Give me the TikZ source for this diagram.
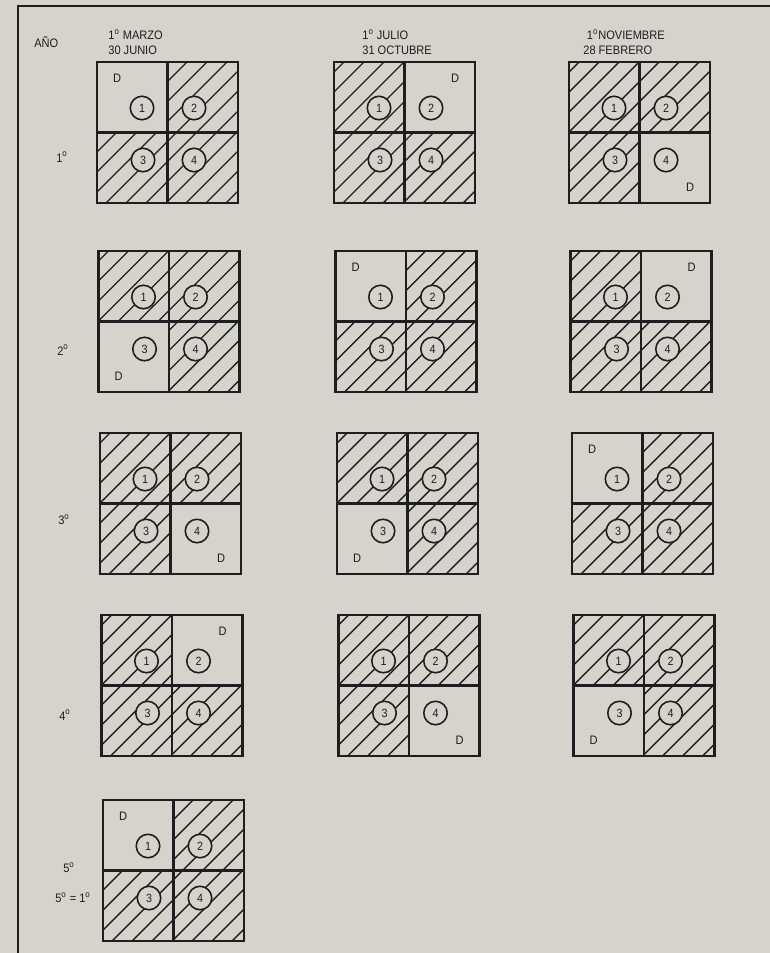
\documentclass[tikz,border=0pt]{standalone}
\usepackage{fontspec}
\setmainfont{Liberation Sans}[FakeStretch=0.9]
\usepackage{tikz}
\usetikzlibrary{positioning}

\definecolor{paper}{RGB}{214,211,204}
\definecolor{ink}{RGB}{30,30,30}
\newcommand{\ord}[1]{#1\textsuperscript{o}}

\begin{document}
\begin{tikzpicture}[
            x=0.02cm, y=-0.02cm,
            frame/.style={draw=ink, line width=1.4pt},
            divider/.style={draw=ink, line width=1.2pt},
            hatch/.style={draw=ink, line width=0.8pt},
            rule/.style={draw=ink, line width=1pt},
            num/.style={draw=ink, fill=paper, circle, line width=0.9pt, minimum size=0.47cm, inner sep=0pt, text=ink, font=\fontsize{6.8}{7}\selectfont},
            dmark/.style={inner sep=0pt, text=ink, font=\fontsize{7}{7}\selectfont},
            head/.style={inner sep=0pt, anchor=west, align=left, text=ink, font=\fontsize{7}{8.6}\selectfont},
            year/.style={inner sep=0pt, text=ink, font=\fontsize{7}{7}\selectfont}
        ]

        % --- FOND ---
        \fill[paper] (0,0) rectangle (770,953);
        \useasboundingbox (0,0) rectangle (770,953);

        % --- FILETS ---
        \coordinate (corner) at (18,6);
        \coordinate (ruleR) at (770,6);
        \coordinate (ruleB) at (18,953);
        \draw[rule] (ruleR) -- (corner) -- (ruleB);

        % --- EN-TETE ---
        \node[head] (ano) at (34,42) {AÑO};
        \node[head] (marzo) at (108,42) {\ord{1} MARZO\\30 JUNIO};
        \node[head] (julio) at (362,42) {\ord{1} JULIO\\31 OCTUBRE};
        \node[head] (nov) at (583,42) {\hspace{2pt}\ord{1}NOVIEMBRE\\28 FEBRERO};

        % --- ANNEES ---
        \node[year] (y1) at (62,157) {\ord{1}};
        \node[year] (y2) at (63,350) {\ord{2}};
        \node[year] (y3) at (64,520) {\ord{3}};
        \node[year] (y4) at (65,715) {\ord{4}};
        \node[year] (y5) at (69,868) {\ord{5}};
        \node[year] (y51) at (73,898) {\ord{5} = \ord{1}};

        % --- CARRES : colonne / rang / parcelle libre ---
        \foreach \c/\r/\f in {1/1/1, 2/1/2, 3/1/4,
                               1/2/3, 2/2/1, 3/2/2,
                               1/3/4, 2/3/3, 3/3/1,
                               1/4/2, 2/4/4, 3/4/3,
                               1/5/1} {
                \pgfmathsetmacro{\X}{{97,334,569}[\c-1]+1.5*(\r-1)}
                \pgfmathsetmacro{\Y}{{62,251,433,615,800}[\r-1]}

                % hachures des parcelles occupees
                \foreach \k/\dx/\dy in {1/0/0, 2/1/0, 3/0/1, 4/1/1} {
                        \ifnum\k=\f\relax\else
                            \begin{scope}
                                \clip (\X+\dx*70.5,\Y+\dy*70.5) rectangle ++(70.5,70.5);
                                \foreach \o in {10,30,...,290}
                                \draw[hatch] (\X+\o-151,\Y+151) -- (\X+\o+10,\Y-10);
                            \end{scope}
                        \fi
                    }

                \draw[frame] (\X,\Y) rectangle ++(141,141);
                \draw[divider] (\X+70.5,\Y) -- ++(0,141);
                \draw[divider] (\X,\Y+70.5) -- ++(141,0);

                % numeros
                \node[num] (s\c\r-1) at (\X+45,\Y+46) {1};
                \node[num] (s\c\r-2) at (\X+97,\Y+46) {2};
                \node[num] (s\c\r-3) at (\X+46,\Y+98) {3};
                \node[num] (s\c\r-4) at (\X+97,\Y+98) {4};

                % D dans la parcelle libre
                \foreach \k/\ddx/\ddy in {1/20/16, 2/121/16, 3/20/125, 4/121/125} {
                        \ifnum\k=\f\relax
                            \node[dmark] (s\c\r-d) at (\X+\ddx,\Y+\ddy) {D};
                        \fi
                    }
            }

    \end{tikzpicture}
\end{document}
